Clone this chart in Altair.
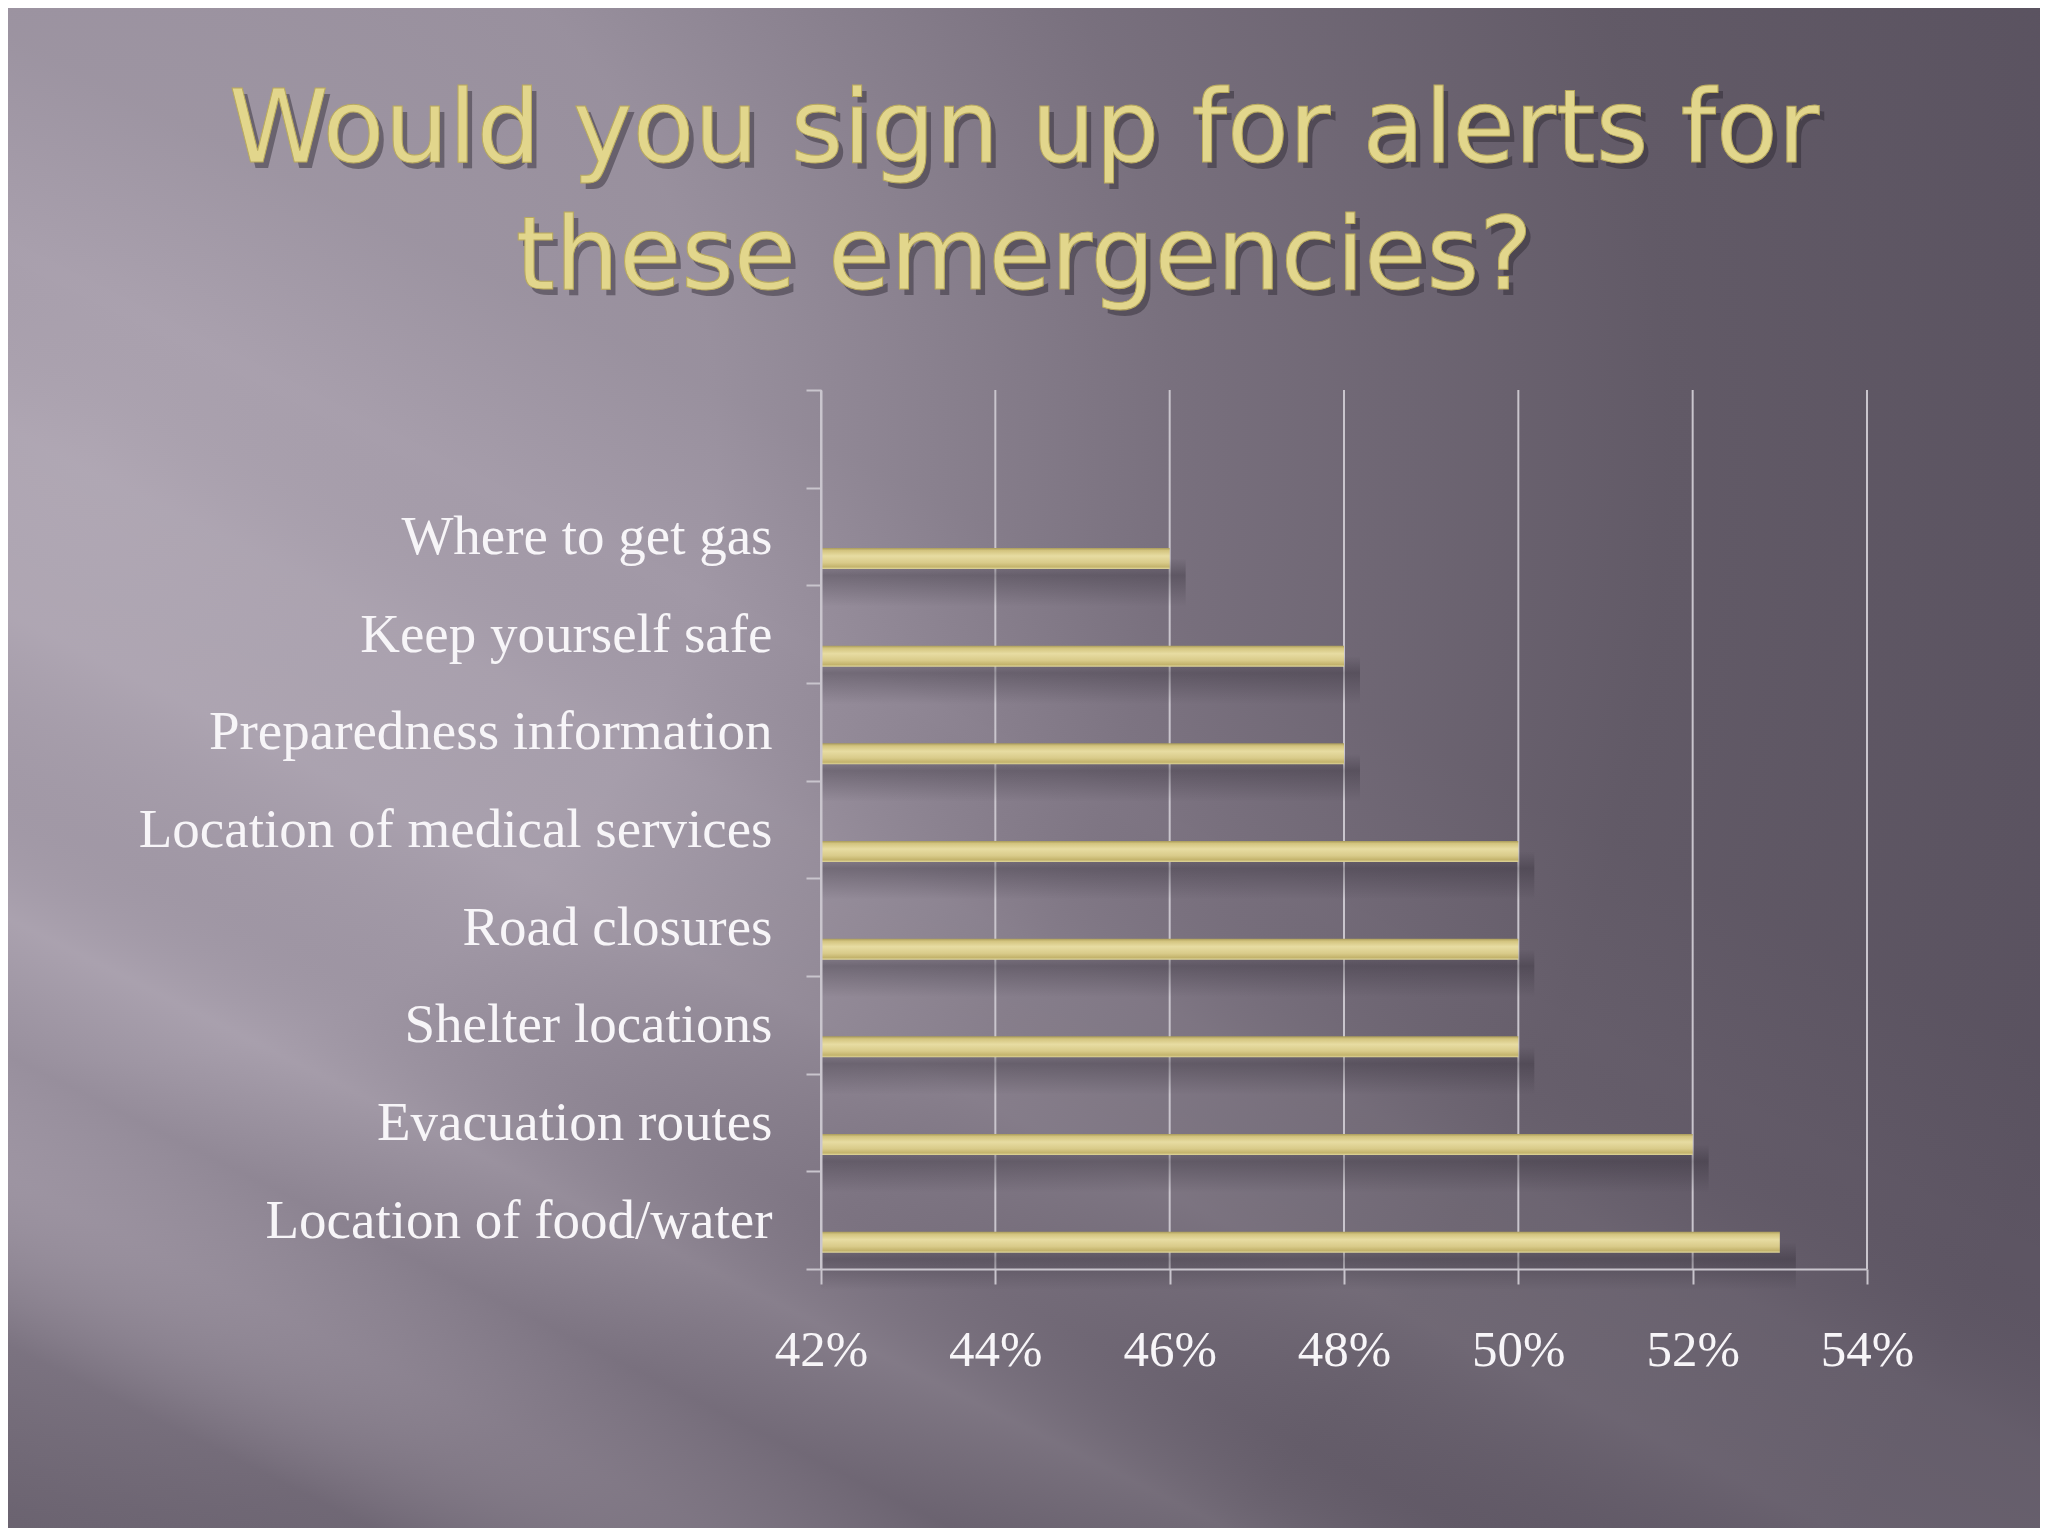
import altair as alt
import pandas as pd

# ---- data ----
title_line1 = "Would you sign up for alerts for"
title_line2 = "these emergencies?"
categories = [
    "Where to get gas",
    "Keep yourself safe",
    "Preparedness information",
    "Location of medical services",
    "Road closures",
    "Shelter locations",
    "Evacuation routes",
    "Location of food/water",
]
values = [0.46, 0.48, 0.48, 0.50, 0.50, 0.50, 0.52, 0.53]
x_ticks = [0.42, 0.44, 0.46, 0.48, 0.50, 0.52, 0.54]

# ---- layout ----
W, H = 1046, 879
PAD = {"left": 813, "top": 382, "right": 173, "bottom": 259}

y_domain = [" "] + categories
bars_df = pd.DataFrame({"cat": categories, "value": values})
ticks_df = pd.DataFrame({"v": x_ticks})
bg_df = pd.DataFrame({"k": [0]})
t1_df = pd.DataFrame({"t": [title_line1]})
t2_df = pd.DataFrame({"t": [title_line2]})

AXIS_COLOR = "#c9c5cd"
LABEL_COLOR = "#f7f5f8"
x_scale = alt.Scale(domain=[0.42, 0.54], zero=False, nice=False)
y_scale = alt.Scale(domain=y_domain, paddingInner=0, paddingOuter=0)

x_axis = alt.Axis(
    title=None,
    values=x_ticks,
    format=".0%",
    grid=False,
    domainColor=AXIS_COLOR,
    domainWidth=2,
    tickColor=AXIS_COLOR,
    tickWidth=2,
    tickSize=15,
    labelFont="Liberation Serif",
    labelFontSize=51,
    labelColor=LABEL_COLOR,
    labelPadding=41,
    labelFlush=False,
    labelOverlap=False,
    zindex=1,
)
y_axis = alt.Axis(
    title=None,
    tickBand="extent",
    grid=False,
    domainColor=AXIS_COLOR,
    domainWidth=2,
    tickColor=AXIS_COLOR,
    tickWidth=2,
    tickSize=15,
    labelFont="Liberation Serif",
    labelFontSize=55,
    labelColor=LABEL_COLOR,
    labelPadding=34,
    labelLimit=1000,
    zindex=1,
)

BG_ENC = dict(x=alt.value(-830), x2=alt.value(1240), y=alt.value(-400), y2=alt.value(1160))

bg_base = alt.Chart(bg_df).mark_rect(
    color=alt.Gradient(
        gradient="radial",
        x1=0.05, y1=0.34, r1=0.0,
        x2=0.05, y2=0.34, r2=1.0,
        stops=[
            alt.GradientStop(color="#aca3b0", offset=0.0),
            alt.GradientStop(color="#a198a6", offset=0.3),
            alt.GradientStop(color="#7f7684", offset=0.52),
            alt.GradientStop(color="#665e6b", offset=0.76),
            alt.GradientStop(color="#5d5563", offset=1.0),
        ],
    )
).encode(**BG_ENC)

bg_streaks = alt.Chart(bg_df).mark_rect(
    color=alt.Gradient(
        gradient="linear",
        x1=0.0, y1=1.0, x2=0.45, y2=0.322,
        stops=[
            alt.GradientStop(color="rgba(40,36,46,0.24)", offset=0.0),
            alt.GradientStop(color="rgba(40,36,46,0.16)", offset=0.14),
            alt.GradientStop(color="rgba(255,250,255,0.05)", offset=0.25),
            alt.GradientStop(color="rgba(40,36,46,0.07)", offset=0.33),
            alt.GradientStop(color="rgba(255,250,255,0.08)", offset=0.42),
            alt.GradientStop(color="rgba(40,36,46,0.03)", offset=0.50),
            alt.GradientStop(color="rgba(255,250,255,0.07)", offset=0.62),
            alt.GradientStop(color="rgba(255,250,255,0.05)", offset=0.74),
            alt.GradientStop(color="rgba(40,36,46,0.0)", offset=0.86),
            alt.GradientStop(color="rgba(40,36,46,0.07)", offset=1.0),
        ],
    )
).encode(**BG_ENC)

grid = alt.Chart(ticks_df).mark_rule(color=AXIS_COLOR, strokeWidth=2).encode(
    x=alt.X("v:Q", scale=x_scale, axis=x_axis)
)

shadow = alt.Chart(bars_df).mark_bar(
    size=48,
    yOffset=46,
    xOffset=16,
    color=alt.Gradient(
        gradient="linear",
        x1=0, y1=0, x2=0, y2=1,
        stops=[
            alt.GradientStop(color="rgba(40,35,45,0.0)", offset=0.0),
            alt.GradientStop(color="rgba(40,35,45,0.32)", offset=0.35),
            alt.GradientStop(color="rgba(40,35,45,0.0)", offset=1.0),
        ],
    ),
).encode(
    y=alt.Y("cat:N", scale=y_scale, sort=y_domain, axis=y_axis),
    x=alt.X("value:Q", scale=x_scale, axis=x_axis),
    x2=alt.datum(0.42),
)

bars = alt.Chart(bars_df).mark_bar(
    size=21,
    yOffset=22,
    color=alt.Gradient(
        gradient="linear",
        x1=0, y1=0, x2=0, y2=1,
        stops=[
            alt.GradientStop(color="#a99b5a", offset=0.0),
            alt.GradientStop(color="#d3c47f", offset=0.12),
            alt.GradientStop(color="#e7dca2", offset=0.38),
            alt.GradientStop(color="#d9cb8a", offset=0.7),
            alt.GradientStop(color="#c3b36c", offset=0.9),
            alt.GradientStop(color="#e0d79c", offset=1.0),
        ],
    ),
).encode(
    y=alt.Y("cat:N", scale=y_scale, sort=y_domain, axis=y_axis),
    x=alt.X("value:Q", scale=x_scale, axis=x_axis),
    x2=alt.datum(0.42),
)

TITLE_X = 203
TITLE_STYLE = dict(font="DejaVu Sans", fontSize=101, align="center", baseline="alphabetic")


def title_layers(df, y):
    sh = alt.Chart(df).mark_text(
        color="#2c2731", opacity=0.45, dx=5, dy=6, **TITLE_STYLE
    ).encode(text="t:N", x=alt.value(TITLE_X), y=alt.value(y))
    tx = alt.Chart(df).mark_text(
        color="#e2d68c", stroke="#b9aa5e", strokeWidth=1, **TITLE_STYLE
    ).encode(text="t:N", x=alt.value(TITLE_X), y=alt.value(y))
    return [sh, tx]


layers = [bg_base, bg_streaks, grid, shadow, bars]
layers += title_layers(t1_df, -228)
layers += title_layers(t2_df, -101)

chart = alt.layer(*layers).properties(
    width=W,
    height=H,
    autosize=alt.AutoSizeParams(type="none"),
    padding=PAD,
    background="#6a6370",
).configure_view(stroke=None)

chart.save("out.html", embed_options={"renderer": "svg", "actions": False})
